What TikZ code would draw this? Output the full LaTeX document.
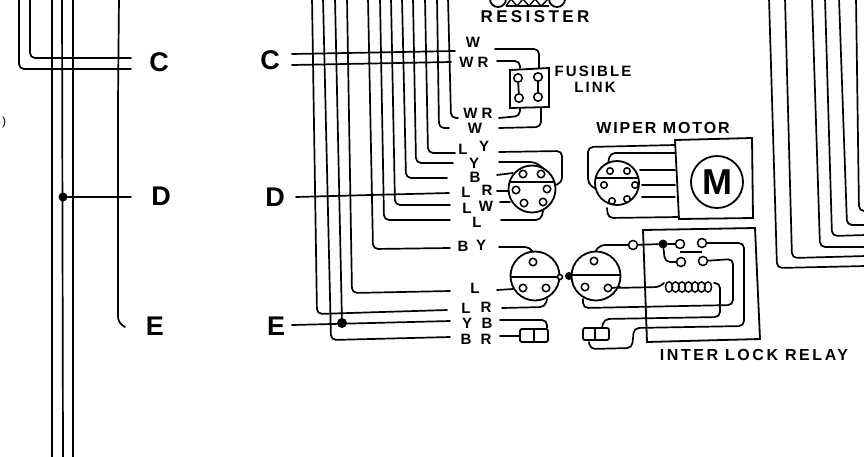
\documentclass[tikz,border=0pt]{standalone}
\usepackage{fontspec}
\setmainfont{Liberation Sans}
\begin{document}
\begin{tikzpicture}[x=1pt,y=-1pt,
  wire/.style={draw=black,line width=1.7pt,rounded corners=5pt,line cap=round},
  body/.style={draw=black,line width=1.8pt},
  pin/.style={circle,draw=black,line width=1.5pt,fill=white,inner sep=0pt,minimum size=7.5pt},
  ring/.style={pin,minimum size=9pt},
  disc/.style={circle,draw=black,line width=1.8pt,fill=white,inner sep=0pt},
  blob/.style={circle,fill=black,inner sep=0pt,minimum size=9pt},
  big/.style={font=\bfseries\fontsize{27}{27}\selectfont,inner sep=0pt},
  tag/.style={font=\bfseries\fontsize{15}{15}\selectfont,inner sep=0pt},
  title/.style={font=\bfseries\fontsize{16}{16}\selectfont\addfontfeature{LetterSpace=12},inner sep=0pt}]
\useasboundingbox (0,0) rectangle (864,456);
\fill[white] (0,0) rectangle (864,456);

% ---- left bus
\draw[wire] (19,-2) -- (19,69) -- (131,69);
\draw[wire] (30,-2) -- (30,58) -- (131,58);
\draw[wire] (52,-2) -- (52,458);
\draw[wire] (62,-2) -- (63,458);
\draw[wire] (73,-2) -- (73,458);
\draw[wire] (119,-2) -- (118,100) -- (118,322) -- (125,327);
\node[blob] (d1) at (63,197) {};
\coordinate (d1e) at (131,197);
\draw[wire] (d1) -- (d1e);
\node[big] (lc1) at (159,62) {C};
\node[big] (ld1) at (161,196) {D};
\node[big] (le1) at (155,326) {E};
\node[font=\fontsize{12}{12}\selectfont,inner sep=0pt] (paren) at (4,122) {)};

% ---- middle harness
\node[big] (lc2) at (270,60) {C};
\node[big] (ld2) at (275,197) {D};
\node[big] (le2) at (276,326) {E};
\draw[wire] (292,54) -- (455,51);
\draw[wire] (292,65) -- (451,62);
\draw[wire] (296,197) -- (370,195) -- (449,193);
\draw[wire] (292,325) -- (450,321);
\draw[wire] (312,-2) -- (317,314) -- (447,310);
\draw[wire] (323,-2) -- (331,340) -- (450,337);
\draw[wire] (335,-2) -- (342,323);
\node[blob,minimum size=10pt] (d2) at (342,323) {};
\draw[wire] (347,-2) -- (352,293) -- (450,291);
\draw[wire] (368,-2) -- (373,249) -- (450,248);
\draw[wire] (380,-2) -- (384,220) -- (450,220);
\draw[wire] (391,-2) -- (395,205) -- (450,205);
\draw[wire] (402,-2) -- (406,178) -- (447,178);
\draw[wire] (413,-2) -- (416,163) -- (453,163);
\draw[wire] (425,-2) -- (428,153) -- (455,153);
\draw[wire] (437,-2) -- (439,128) -- (449,128);
\draw[wire] (448,-2) -- (451,118) -- (458,118);

% ---- wire labels
\foreach \t/\x/\y/\n in {W/473/42/a,W R/474/62/b,W R/478/113/c,W/475/128/d,
  L/463/149/e,Y/484/146/f,Y/474/163/g,B/475/177/h,L/466/192/i,R/487/190/j,
  L/467/208/k,W/486/206/l,L/477/222/m,B/463/246/n,Y/481/245/o,L/475/288/p,
  L/466/308/q,R/486/307/r,Y/467/323/s,B/487/323/t,B/466/339/u,R/486/339/v}
  \node[tag] (t\n) at (\x,\y) {\t};

% ---- resister
\draw[body] (498,-1) circle (8);
\draw[body] (557,-1) circle (8);
\draw[body] (506,6) -- (549,6);
\draw[line width=1.4pt] (506,6) -- (511,-1) -- (517,6) -- (523,-1) -- (529,6) -- (535,-1) -- (541,6) -- (548,-1);
\node[title,font=\bfseries\fontsize{17}{17}\selectfont\addfontfeature{LetterSpace=20}] (res) at (535,17) {RESISTER};

% ---- fusible link
\draw[body] (510,70) -- (549,68) -- (549,107) -- (510,108) -- cycle;
\node[pin,minimum size=8.5pt] (f1) at (518,78) {};
\node[pin,minimum size=8.5pt] (f2) at (538,77) {};
\node[pin,minimum size=8.5pt] (f3) at (519,98) {};
\node[pin,minimum size=8.5pt] (f4) at (538,97) {};
\draw[body] (f1) -- (f3);
\draw[body] (f2) -- (f4);
\draw[wire] (495,49) -- (539,49) -- (539,68);
\draw[wire] (497,61) -- (520,61) -- (520,68);
\draw[wire] (499,118) -- (520,116) -- (520,108);
\draw[wire] (499,128) -- (541,127) -- (541,108);
\node[title,font=\bfseries\fontsize{15}{15}\selectfont\addfontfeature{LetterSpace=14}] (fl1) at (593,71) {FUSIBLE};
\node[title,font=\bfseries\fontsize{15}{15}\selectfont\addfontfeature{LetterSpace=14}] (fl2) at (595,87) {LINK};

% ---- connector 1
\draw[wire] (499,152) -- (562,151) -- (562,183) -- (555,185);
\draw[wire] (499,162) -- (535,162) -- (543,168);
\draw[wire] (497,175) -- (513,173);
\draw[wire] (497,191) -- (508,191);
\draw[wire] (500,202) -- (510,202);
\draw[wire] (501,220) -- (541,220) -- (543,211);
\node[disc,minimum size=47pt] (k1) at (532,189) {};
\draw[body] (509,182) -- (555,182);
\foreach \p/\x/\y in {a/523/174,b/541/174,c/516/190,d/547/189,e/524/203,f/543/202}
  \node[pin] (k1\p) at (\x,\y) {};

% ---- connector 2
\draw[wire] (499,247) -- (530,247) -- (533,252);
\draw[wire] (497,290) -- (513,289);
\draw[wire] (502,308) -- (545,307) -- (547,299);
\draw[wire] (500,320) -- (547,320) -- (547,328);
\draw[wire] (500,336) -- (520,336);
\node[disc,minimum size=49pt] (k2) at (535,276) {};
\draw[body] (511,277) -- (559,277);
\foreach \p/\x/\y in {a/533/262,b/523/288,c/546/288}
  \node[pin] (k2\p) at (\x,\y) {};
\draw[body,rounded corners=2pt] (520,329) rectangle (548,342);
\draw[body] (534,329) -- (534,342);
\node[pin,minimum size=5pt] (k2g) at (560,277) {};

% ---- connector 3 and relay
\node[blob,minimum size=8pt] (k3d) at (569,276) {};
\draw[body] (643,230) -- (755,228) -- (760,339) -- (647,342) -- cycle;
\node[ring] (r0) at (633,245) {};
\node[blob] (r1) at (663,244) {};
\node[ring] (r2) at (680,244) {};
\node[ring] (r3) at (702,243) {};
\node[ring] (r4) at (681,262) {};
\node[ring] (r5) at (703,261) {};
\draw[body] (680,252) -- (702,252);
\draw[wire] (595,252) -- (600,245) -- (r0);
\draw[wire] (r0) -- (r1) -- (r2);
\draw[wire] (r1) -- (665,262) -- (r4);
\draw[wire] (r3) -- (744,243) -- (744,326) -- (634,328) -- (632,348) -- (590,349) -- (589,342);
\draw[wire] (r5) -- (733,259) -- (733,305) -- (583,308) -- (583,299);
\draw[wire] (612,288) -- (660,287) -- (664,283);
\foreach \i in {0,...,6}
  \draw[line width=1.4pt] (669+6.5*\i,287) ellipse (3.6 and 5.2);
\draw[wire] (714,283) -- (720,283) -- (720,317) -- (604,319) -- (602,328);
\node[disc,minimum size=49pt] (k3) at (596,276) {};
\draw[body] (572,275) -- (620,275);
\foreach \p/\x/\y in {a/594/261,b/585/287,c/608/288}
  \node[pin] (k3\p) at (\x,\y) {};
\draw[wire] (612,288) -- (620,287);
\draw[body,rounded corners=2pt] (583,328) rectangle (609,340);
\draw[body] (595,328) -- (595,340);
\node[title,font=\bfseries\fontsize{16}{16}\selectfont\addfontfeature{LetterSpace=16}] (ilr) at (754,355) {INTER LOCK RELAY};

% ---- wiper motor
\node[title] (wm) at (663,128) {WIPER MOTOR};
\draw[body] (675,140) -- (752,138) -- (753,218) -- (679,219) -- cycle;
\node[circle,draw=black,line width=1.8pt,minimum size=52pt,inner sep=0pt,
  font=\bfseries\fontsize{36}{36}\selectfont] (mm) at (717,182) {M};
\draw[wire] (675,145) -- (588,147) -- (588,184) -- (596,189);
\draw[wire] (675,153) -- (610,153) -- (608,164);
\draw[wire] (640,170) -- (675,170);
\draw[wire] (642,185) -- (675,185);
\draw[wire] (642,197) -- (675,197);
\draw[wire] (607,208) -- (608,218) -- (679,217);
\node[disc,minimum size=44pt] (k4) at (617,183) {};
\draw[body] (596,178) -- (639,178);
\foreach \p/\x/\y in {a/610/171,b/627/171,c/604/185,d/635/185,e/612/201,f/627/199}
  \node[pin,minimum size=6.5pt] (k4\p) at (\x,\y) {};

% ---- right harness
\draw[wire] (769,-2) -- (777,268) -- (866,266);
\draw[wire] (785,-2) -- (792,258) -- (866,256);
\draw[wire] (812,-2) -- (820,247) -- (866,247);
\draw[wire] (825,-2) -- (832,236) -- (866,235);
\draw[wire] (839,-2) -- (847,225) -- (866,225);
\draw[wire] (856,-2) -- (859,211) -- (866,211);
\end{tikzpicture}
\end{document}
